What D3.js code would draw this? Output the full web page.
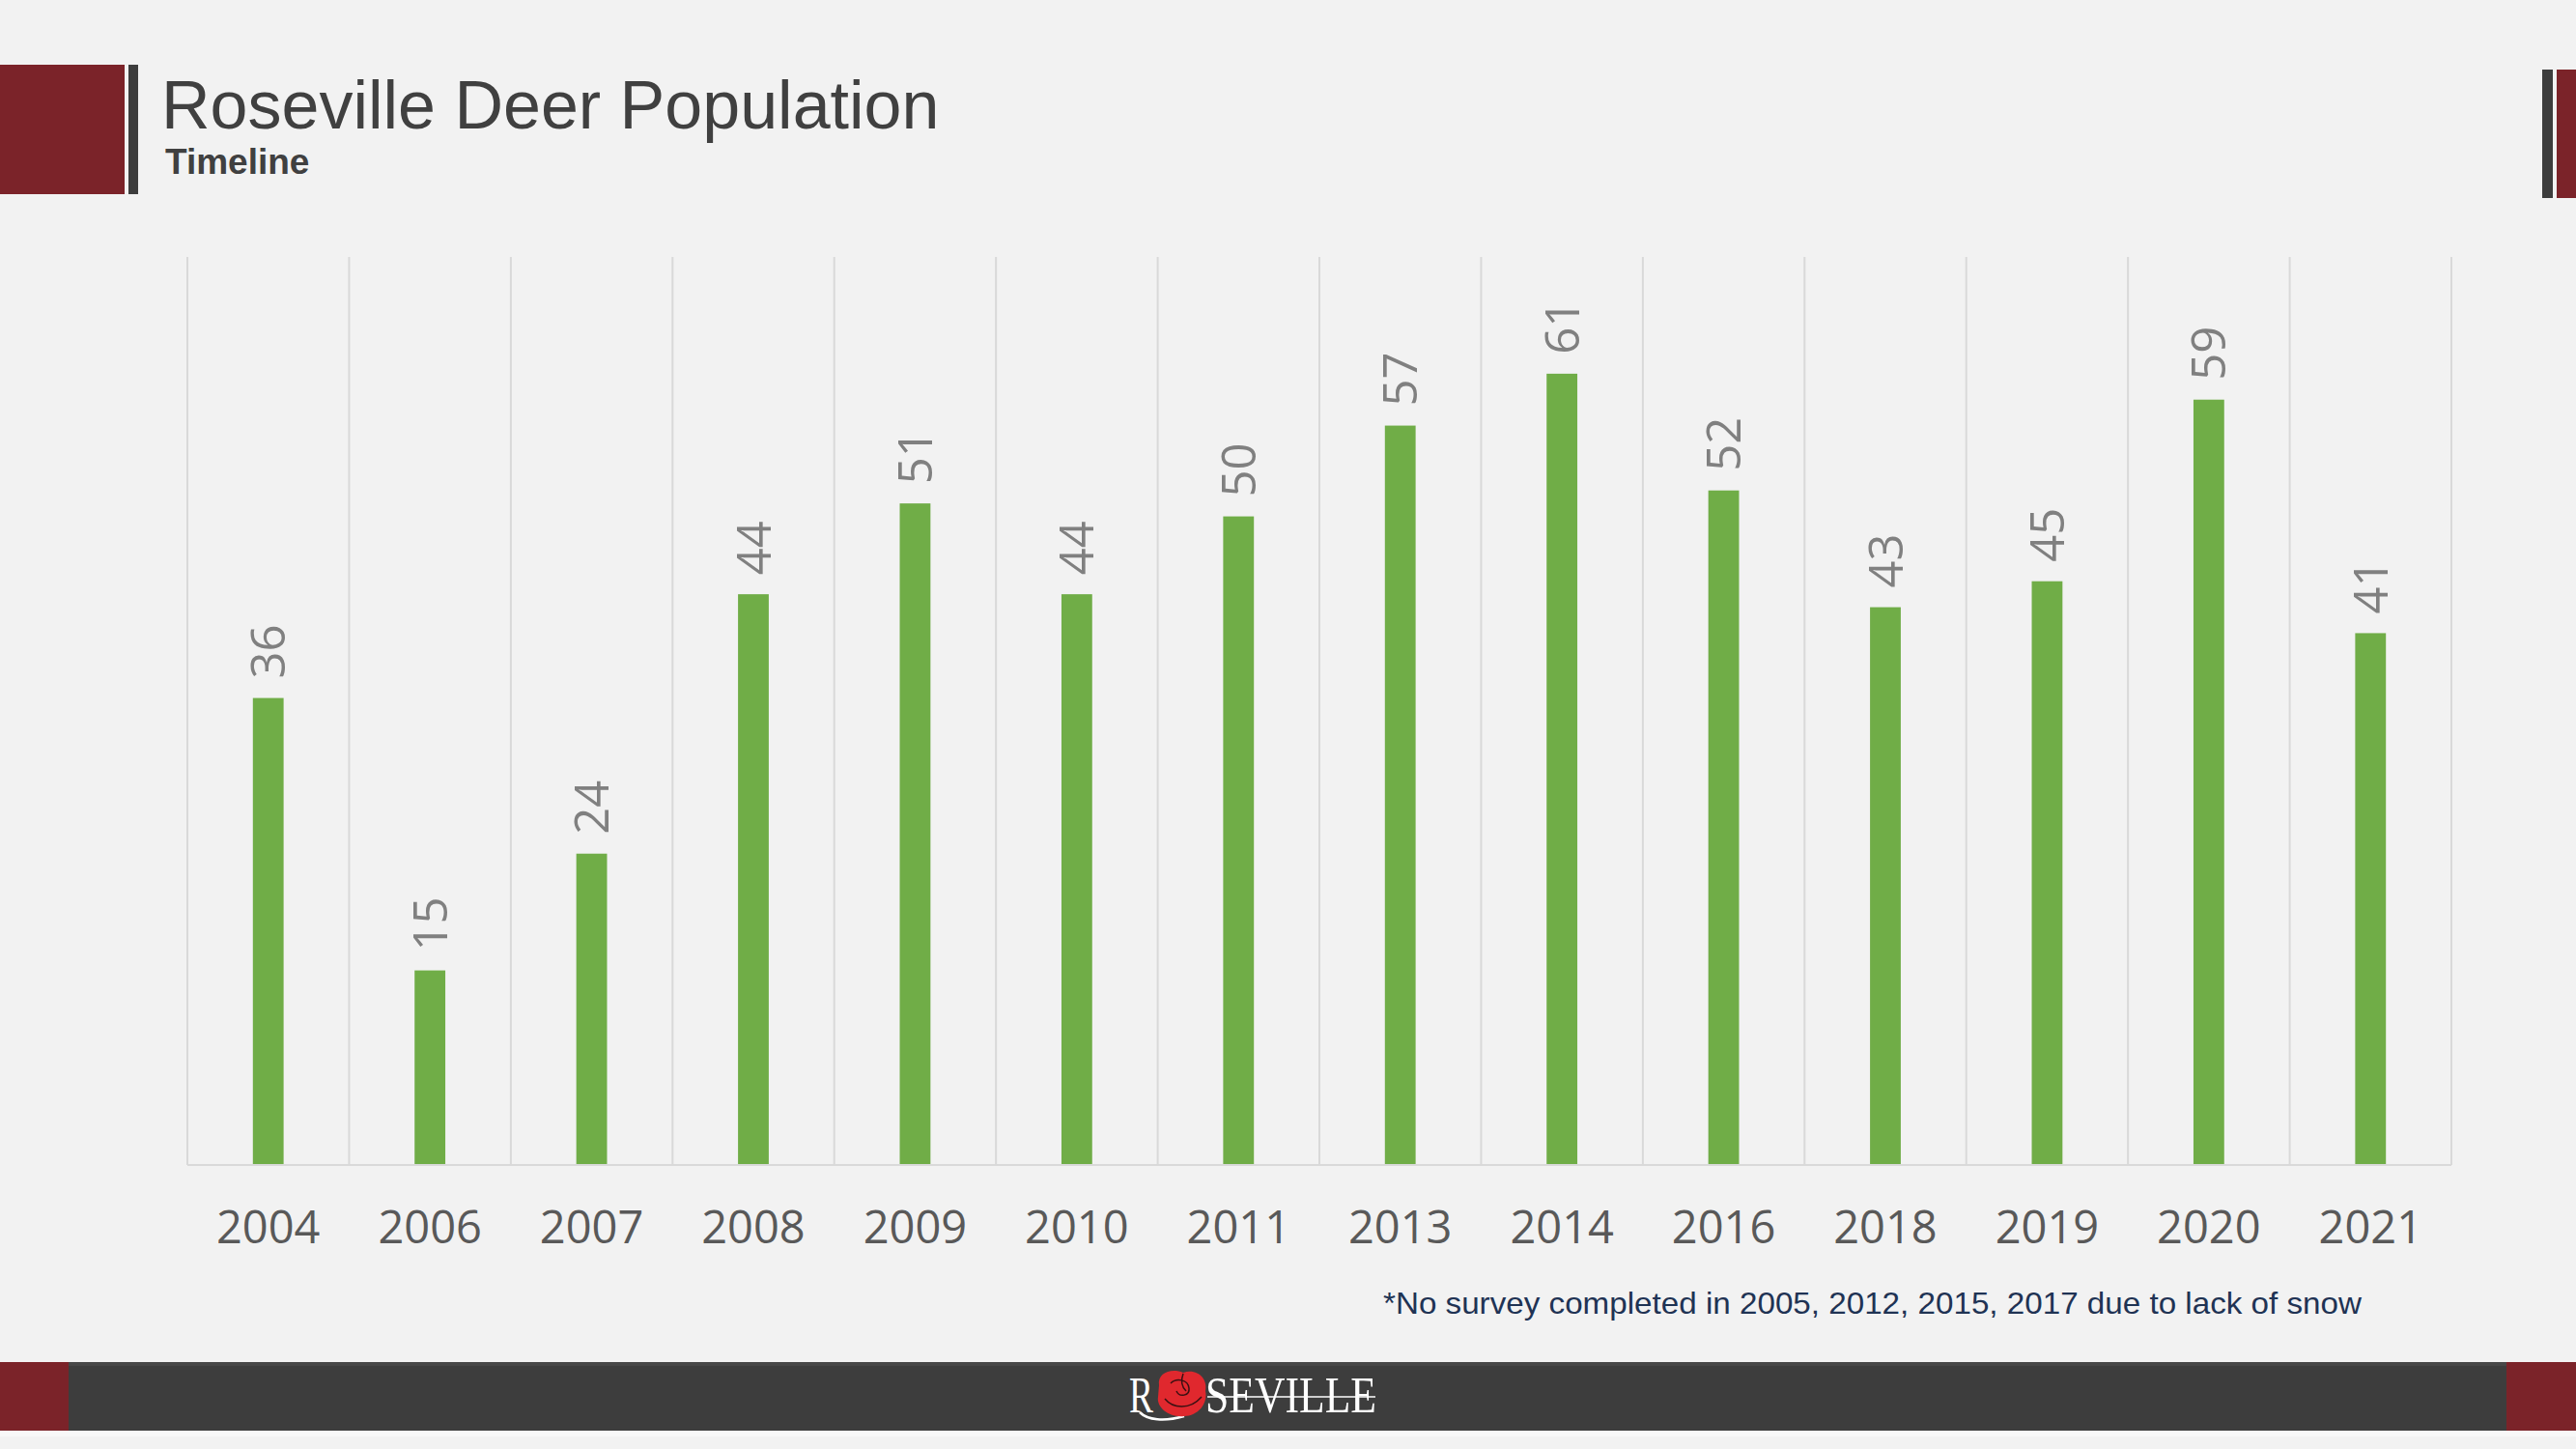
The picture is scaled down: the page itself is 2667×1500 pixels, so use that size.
<!DOCTYPE html>
<html>
<head>
<meta charset="utf-8">
<script src="https://cdn.jsdelivr.net/npm/d3@7"></script>
<style>
  html, body { margin: 0; padding: 0; background: #f2f2f2; }
  svg { display: block; }
</style>
</head>
<body>
<svg id="slide" width="2667" height="1500"></svg>
<script>
// Survey years (2005, 2012, 2015, 2017 skipped - no snow)
const years = ["2004", "2006", "2007", "2008", "2009", "2010", "2011",
               "2013", "2014", "2016", "2018", "2019", "2020", "2021"];
const deerCounts = [36, 15, 24, 44, 51, 44, 50, 57, 61, 52, 43, 45, 59, 41];
const yDomain = [0, 70];

const titleText = "Roseville Deer Population";
const subtitleText = "Timeline";
const footnoteText = "*No survey completed in 2005, 2012, 2015, 2017 due to lack of snow";

const RED = "#7b2329";
const DARK = "#3d3d3d";
const GREEN = "#70ad47";

const svg = d3.select("#slide");

svg.append("rect").attr("width", 2667).attr("height", 1500).attr("fill", "#f2f2f2");

// --- header blocks ---
svg.append("rect").attr("x", 0).attr("y", 67).attr("width", 129).attr("height", 134).attr("fill", RED);
svg.append("rect").attr("x", 133).attr("y", 67).attr("width", 10).attr("height", 134).attr("fill", DARK);
svg.append("rect").attr("x", 2632).attr("y", 72).attr("width", 11).attr("height", 133).attr("fill", DARK);
svg.append("rect").attr("x", 2647).attr("y", 72).attr("width", 20).attr("height", 133).attr("fill", RED);

svg.append("text")
    .attr("x", 167).attr("y", 133)
    .attr("font-family", "Liberation Sans, Arial, sans-serif")
    .attr("font-size", 70)
    .attr("fill", "#404040")
    .text(titleText);

svg.append("text")
    .attr("x", 171).attr("y", 180)
    .attr("font-family", "Liberation Sans, Arial, sans-serif")
    .attr("font-size", 37)
    .attr("font-weight", "bold")
    .attr("fill", "#404040")
    .text(subtitleText);

// --- chart ---
const plot = { left: 194, right: 2538, top: 266, bottom: 1206 };

const cell = d3.scaleBand()
    .domain(years)
    .range([plot.left, plot.right])
    .padding(0);

const barBand = d3.scaleBand()
    .domain(years)
    .range([plot.left, plot.right])
    .paddingInner(0.81)
    .paddingOuter(0.405);

const y = d3.scaleLinear().domain(yDomain).range([plot.bottom, plot.top]);

const chart = svg.append("g");

// vertical gridlines at category boundaries
const bounds = years.map(d => cell(d)).concat([plot.right]);
chart.selectAll(".grid")
    .data(bounds)
    .enter()
    .append("line")
    .attr("class", "grid")
    .attr("x1", d => d).attr("x2", d => d)
    .attr("y1", plot.top).attr("y2", plot.bottom)
    .attr("stroke", "#d9d9d9")
    .attr("stroke-width", 2);

chart.selectAll(".bar")
    .data(years)
    .enter()
    .append("rect")
    .attr("class", "bar")
    .attr("x", d => barBand(d))
    .attr("width", barBand.bandwidth())
    .attr("y", (d, i) => y(deerCounts[i]))
    .attr("height", (d, i) => y(0) - y(deerCounts[i]))
    .attr("fill", GREEN);

// baseline
chart.append("line")
    .attr("x1", plot.left).attr("x2", plot.right)
    .attr("y1", plot.bottom).attr("y2", plot.bottom)
    .attr("stroke", "#d9d9d9")
    .attr("stroke-width", 2);

// rotated value labels
chart.selectAll(".val")
    .data(years)
    .enter()
    .append("text")
    .attr("class", "val")
    .attr("transform", (d, i) => {
        const cx = barBand(d) + barBand.bandwidth() / 2;
        return `translate(${cx},${y(deerCounts[i]) - 20}) rotate(-90)`;
    })
    .attr("dy", "0.36em")
    .attr("font-family", "Open Sans, Noto Sans, sans-serif")
    .attr("font-size", 49)
    .attr("fill", "#808080")
    .text((d, i) => deerCounts[i]);

// x axis labels
const xAxis = d3.axisBottom(cell).tickSize(0);
const axisG = chart.append("g")
    .attr("transform", `translate(0,${plot.bottom})`)
    .call(xAxis);
axisG.select(".domain").remove();
axisG.selectAll("text")
    .attr("y", 81)
    .attr("dy", 0)
    .attr("font-family", "Open Sans, Noto Sans, sans-serif")
    .attr("font-size", 47)
    .attr("fill", "#595959");

// footnote
svg.append("text")
    .attr("x", 1432).attr("y", 1360)
    .attr("font-family", "Liberation Sans, Arial, sans-serif")
    .attr("font-size", 32)
    .attr("textLength", 1013)
    .attr("lengthAdjust", "spacingAndGlyphs")
    .attr("fill", "#1f3354")
    .text(footnoteText);

// --- footer band ---
svg.append("rect").attr("x", 0).attr("y", 1481).attr("width", 2667).attr("height", 6).attr("fill", "#f8f8f8");
svg.append("rect").attr("x", 0).attr("y", 1410).attr("width", 2667).attr("height", 71).attr("fill", DARK);
svg.append("rect").attr("x", 0).attr("y", 1410).attr("width", 2667).attr("height", 4).attr("fill", "#474747");
svg.append("rect").attr("x", 0).attr("y", 1410).attr("width", 71).attr("height", 71).attr("fill", RED);
svg.append("rect").attr("x", 2595).attr("y", 1410).attr("width", 72).attr("height", 71).attr("fill", RED);

// logo: R + rose + SEVILLE
const logo = svg.append("g");
const serif = "Liberation Serif, DejaVu Serif, serif";
logo.append("text")
    .attr("x", 1169).attr("y", 1462)
    .attr("font-family", serif).attr("font-size", 53)
    .attr("textLength", 25).attr("lengthAdjust", "spacingAndGlyphs")
    .attr("fill", "#ffffff")
    .text("R");
logo.append("path")
    .attr("d", "M1180,1462 C1188,1470 1205,1472 1226,1466")
    .attr("fill", "none").attr("stroke", "#ffffff").attr("stroke-width", 2.5);
logo.append("path")
    .attr("d", "M1200,1434 C1198,1421 1213,1416 1225,1421 C1239,1416 1251,1427 1248,1440 C1251,1453 1240,1466 1226,1466 C1211,1468 1197,1457 1199,1446 Z")
    .attr("fill", "#e0282e");
logo.append("path")
    .attr("d", "M1212,1432 C1218,1426 1230,1428 1231,1437 C1232,1445 1221,1447 1218,1440 M1206,1448 C1214,1458 1232,1460 1244,1446 M1225,1422 C1222,1430 1224,1436 1228,1440")
    .attr("fill", "none").attr("stroke", "#3a1012").attr("stroke-width", 1.5);
logo.append("text")
    .attr("x", 1248).attr("y", 1462)
    .attr("font-family", serif).attr("font-size", 53)
    .attr("textLength", 177).attr("lengthAdjust", "spacingAndGlyphs")
    .attr("fill", "#ffffff")
    .text("SEVILLE");
logo.append("line")
    .attr("x1", 1250).attr("x2", 1424)
    .attr("y1", 1446).attr("y2", 1446)
    .attr("stroke", "#ffffff").attr("stroke-width", 1.5);
</script>
</body>
</html>
